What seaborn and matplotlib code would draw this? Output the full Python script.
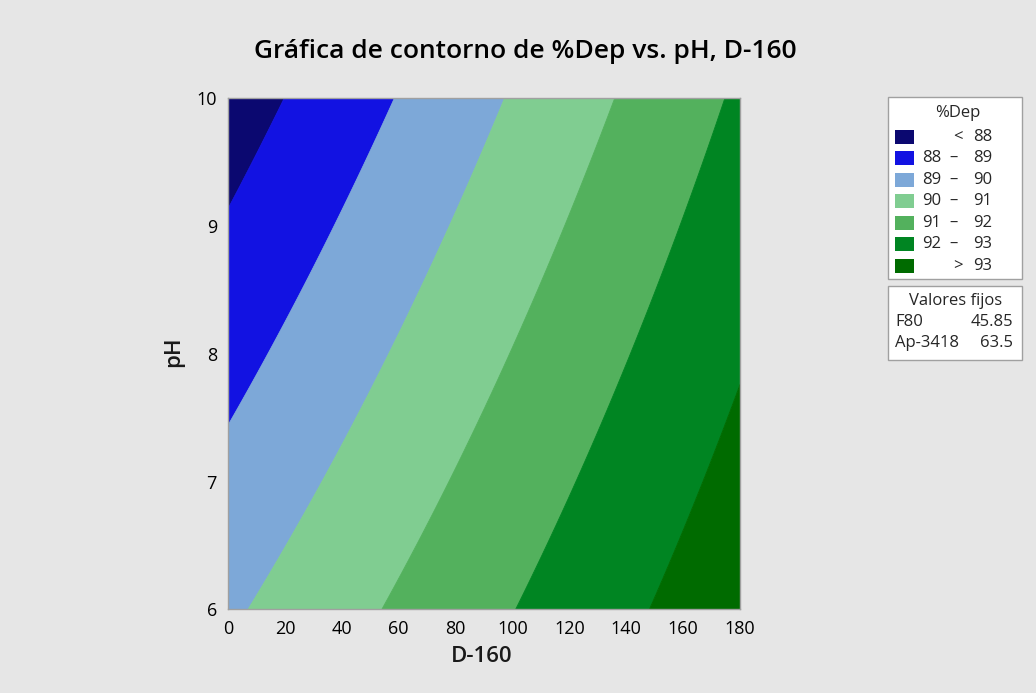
import numpy as np
import pandas as pd
import matplotlib
matplotlib.use("Agg")
import matplotlib.pyplot as plt
from matplotlib.patches import Rectangle
import seaborn as sns

# ---- data ----
d160_range = [0, 180]
ph_range = [6, 10]
# response-surface coefficients estimated from the contour crossings
coef_intercept = 93.39
coef_d160 = 0.01442
coef_ph = -0.590
coef_d160_ph = 0.00114

levels = [80, 88, 89, 90, 91, 92, 93, 100]
level_colors = ["#0b0870", "#1212e2", "#7da8d8", "#80cd91",
                "#53b15d", "#008522", "#006b00"]
legend_left = ["", "88", "89", "90", "91", "92", ""]
legend_mid = ["<", "–", "–", "–", "–", "–", ">"]
legend_right = ["88", "89", "90", "91", "92", "93", "93"]
xticks = [0, 20, 40, 60, 80, 100, 120, 140, 160, 180]
yticks = [6, 7, 8, 9, 10]
fixed_names = ["F80", "Ap-3418"]
fixed_values = ["45.85", "63.5"]

title = "Gráfica de contorno de %Dep vs. pH, D-160"
xlabel = "D-160"
ylabel = "pH"
legend_title = "%Dep"
fixed_title = "Valores fijos"

# ---- style ----
sns.set_theme(style="white")
plt.rcParams["font.family"] = ["Open Sans", "DejaVu Sans"]

W, H = 1036, 693
fig = plt.figure(figsize=(W / 100, H / 100), dpi=100, facecolor="#e6e6e6")

def fx(px):
    return px / W

def fy(py):
    return 1 - py / H

ax = fig.add_axes([fx(228), fy(609.3), fx(740) - fx(228), fy(98.3) - fy(609.3)])

d = np.linspace(d160_range[0], d160_range[1], 500)
p = np.linspace(ph_range[0], ph_range[1], 500)
grid = pd.DataFrame([(di, pi) for pi in p for di in d], columns=["D160", "pH"])
grid["Dep"] = (coef_intercept + coef_d160 * grid["D160"] + coef_ph * grid["pH"]
               + coef_d160_ph * grid["D160"] * grid["pH"])
Z = grid.pivot(index="pH", columns="D160", values="Dep")

cs = ax.contourf(Z.columns.values, Z.index.values, Z.values, levels=levels,
                 colors=level_colors, antialiased=True)
cs.set_edgecolor("face")
cs.set_linewidth(0.6)
ax.set_xlim(d160_range)
ax.set_ylim(ph_range)
ax.set_xticks(xticks)
ax.set_yticks(yticks)
ax.tick_params(axis="both", direction="out", length=6, width=1, color="#a0a0a0",
               labelsize=13, labelcolor="black", pad=2)
for s in ax.spines.values():
    s.set_color("#a0a0a0")
    s.set_linewidth(1)
    s.set_zorder(5)

fig.text(fx(525), fy(52), title, ha="center", va="center", fontsize=19,
         fontweight="semibold", color="black")
fig.text(fx(482), fy(657), xlabel, ha="center", va="center", fontsize=16,
         fontweight="semibold", color="#1a1a1a")
fig.text(fx(174), fy(352), ylabel, ha="center", va="center", fontsize=16,
         fontweight="semibold", rotation=90, color="#1a1a1a")

# ---- legend boxes ----
box1 = Rectangle((fx(888), fy(279)), fx(1022) - fx(888), fy(97) - fy(279),
                 transform=fig.transFigure, facecolor="white", edgecolor="#a0a0a0", lw=1)
box2 = Rectangle((fx(888), fy(360)), fx(1022) - fx(888), fy(286) - fy(360),
                 transform=fig.transFigure, facecolor="white", edgecolor="#a0a0a0", lw=1)
fig.patches.extend([box1, box2])

fs_leg = 12
fig.text(fx(958), fy(113), legend_title, ha="center", va="center", fontsize=fs_leg)
row0, step = 136.7, 21.5
for i, col in enumerate(level_colors):
    yc = row0 + i * step
    sq = Rectangle((fx(895), fy(yc + 7)), fx(914) - fx(895), fy(yc - 7) - fy(yc + 7),
                   transform=fig.transFigure, facecolor=col, edgecolor="none")
    fig.patches.append(sq)
    if legend_left[i]:
        fig.text(fx(941), fy(yc), legend_left[i], ha="right", va="center", fontsize=fs_leg)
        fig.text(fx(954), fy(yc), legend_mid[i], ha="center", va="center", fontsize=fs_leg)
    else:
        fig.text(fx(958), fy(yc), legend_mid[i], ha="center", va="center", fontsize=fs_leg)
    fig.text(fx(992), fy(yc), legend_right[i], ha="right", va="center", fontsize=fs_leg)

fig.text(fx(956), fy(300.7), fixed_title, ha="center", va="center", fontsize=fs_leg)
for i, (n, v) in enumerate(zip(fixed_names, fixed_values)):
    yc = 321.7 + i * 21.6
    fig.text(fx(895), fy(yc), n, ha="left", va="center", fontsize=fs_leg)
    fig.text(fx(1013), fy(yc), v, ha="right", va="center", fontsize=fs_leg)

fig.savefig("out.png", dpi=100, facecolor=fig.get_facecolor())
